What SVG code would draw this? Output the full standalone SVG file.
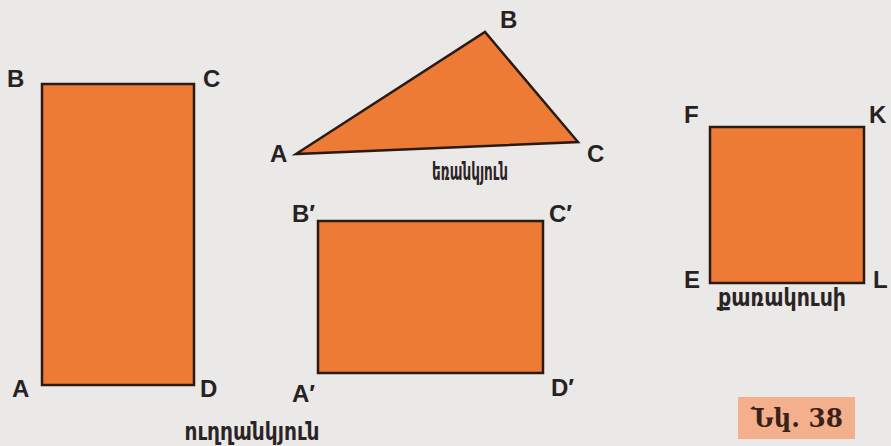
<svg xmlns="http://www.w3.org/2000/svg" width="891" height="446" viewBox="0 0 891 446">
<style>
.shape{fill:#ee7b35;stroke:#2b1a12;stroke-width:2.5;stroke-linejoin:miter}
.lbl{font-family:"Liberation Sans",Arial,sans-serif;font-weight:bold;font-size:24px;fill:#262222}
.cap{font-family:"DejaVu Sans","Noto Sans",sans-serif;font-weight:bold;font-size:25px;fill:#2a2424}
.fig{font-family:"DejaVu Serif Condensed","DejaVu Serif",serif;font-weight:bold;font-size:26px;fill:#3a2218}
</style>
<rect width="891" height="446" fill="#ebe8e8"/>
<g id="rectangle">
<rect class="shape" x="42" y="84" width="152" height="301"/>
<text class="lbl" x="7" y="87">B</text>
<text class="lbl" x="203" y="87">C</text>
<text class="lbl" x="12" y="397">A</text>
<text class="lbl" x="200" y="397">D</text>
<text class="cap" x="252" y="440" text-anchor="middle" textLength="135" lengthAdjust="spacingAndGlyphs">ուղղանկյուն</text>
</g>
<g id="triangle">
<polygon class="shape" points="296,154 485,32 578,142"/>
<text class="lbl" x="500" y="28">B</text>
<text class="lbl" x="270" y="162">A</text>
<text class="lbl" x="587" y="162">C</text>
<text class="cap" x="470" y="180" text-anchor="middle" textLength="76" lengthAdjust="spacingAndGlyphs">եռանկյուն</text>
</g>
<g id="rectangle2">
<rect class="shape" x="318" y="221" width="225" height="152"/>
<text class="lbl" x="292" y="222">B′</text>
<text class="lbl" x="549" y="222">C′</text>
<text class="lbl" x="292" y="402">A′</text>
<text class="lbl" x="551" y="396">D′</text>
</g>
<g id="square">
<rect class="shape" x="710" y="127" width="154" height="156"/>
<text class="lbl" x="684" y="123">F</text>
<text class="lbl" x="869" y="123">K</text>
<text class="lbl" x="684" y="288">E</text>
<text class="lbl" x="873" y="288">L</text>
<text class="cap" x="782" y="306" text-anchor="middle" textLength="128" lengthAdjust="spacingAndGlyphs">քառակուսի</text>
</g>
<g id="figlabel">
<rect x="738" y="397" width="117" height="42" fill="#f4b08c"/>
<text class="fig" x="797" y="427" text-anchor="middle" textLength="92" lengthAdjust="spacingAndGlyphs">Նկ. 38</text>
</g>
<g id="connectors"/>
</svg>
